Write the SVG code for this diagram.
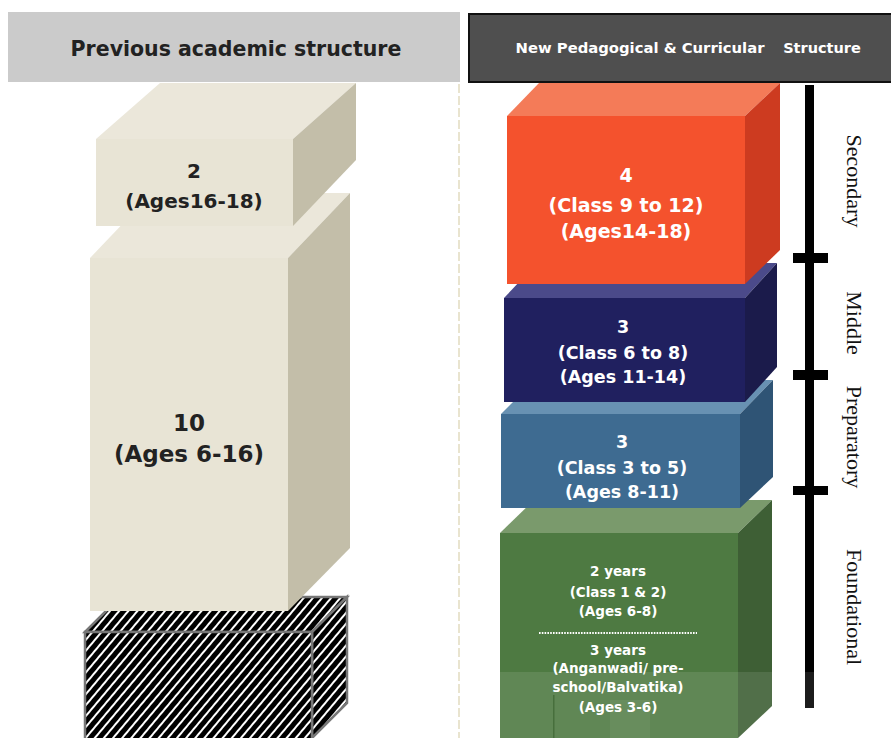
<svg xmlns="http://www.w3.org/2000/svg" width="891" height="738" viewBox="0 0 891 738">
<style>
.gs{font-family:"DejaVu Sans","Liberation Sans",sans-serif;font-weight:bold;text-anchor:middle}
.dk{fill:#222}
.wt{fill:#fff}
.lbl{font-family:"Liberation Serif","Times New Roman",serif;font-size:22px;fill:#111;text-anchor:middle}
</style>
<defs>
<pattern id="hatch" width="7" height="7" patternUnits="userSpaceOnUse" patternTransform="rotate(40)">
<rect width="7" height="7" fill="#000"/>
<rect x="0" y="0" width="2" height="7" fill="#fff"/>
</pattern>
</defs>
<rect width="891" height="738" fill="#fff"/>

<!-- headers -->
<g id="header-left">
<rect x="8" y="12" width="452" height="70" fill="#cbcbcb"/>
<text class="gs dk" x="236" y="56" font-size="20.5">Previous academic structure</text>
</g>
<g id="header-right">
<rect x="469" y="14" width="424" height="68" fill="#4f4f4f" stroke="#111" stroke-width="2"/>
<text class="gs wt" x="640" y="53" font-size="14.8">New Pedagogical &amp; Curricular</text>
<text class="gs wt" x="822" y="53" font-size="14.5">Structure</text>
</g>

<!-- divider and stage scale -->
<g id="connectors">
<line x1="459" y1="84" x2="459" y2="738" stroke="#e9e4cf" stroke-width="2" stroke-dasharray="9 3"/>
<rect x="805" y="85" width="9" height="588" fill="#000"/>
<rect x="805" y="672" width="9" height="36" fill="#1c1c1c"/>
<rect x="793" y="253" width="35" height="10" fill="#000"/>
<rect x="793" y="370" width="35" height="10" fill="#000"/>
<rect x="793" y="486" width="35" height="9" fill="#000"/>
</g>

<!-- left column -->
<g id="box-pre">
<polygon points="85,632 120,597 347,597 312,632" fill="url(#hatch)" stroke="#777" stroke-width="2.5"/>
<polygon points="312,632 347,597 347,703 312,738" fill="url(#hatch)" stroke="#777" stroke-width="2.5"/>
<rect x="85" y="632" width="227" height="108" fill="url(#hatch)" stroke="#777" stroke-width="2.5"/>
</g>
<g id="box-10">
<polygon points="90,258 152,193 350,193 288,258" fill="#ebe7da"/>
<polygon points="288,258 350,193 350,548 288,611" fill="#c3bea9"/>
<rect x="90" y="258" width="198" height="353" fill="#e8e4d5"/>
<text class="gs dk" x="189" y="431" font-size="23">10</text>
<text class="gs dk" x="189" y="462" font-size="23">(Ages 6-16)</text>
</g>
<g id="box-2">
<polygon points="96,139 160,83 356,83 293,139" fill="#ebe7da"/>
<polygon points="293,139 356,83 356,160 293,226" fill="#c3bea9"/>
<rect x="96" y="139" width="197" height="87" fill="#e8e4d5"/>
<text class="gs dk" x="194" y="178" font-size="20">2</text>
<text class="gs dk" x="194" y="208" font-size="20">(Ages16-18)</text>
</g>

<!-- right column -->
<g id="box-foundational">
<polygon points="500,533 534,500 772,500 738,533" fill="#7a9a6c"/>
<polygon points="738,533 772,500 772,706 738,738" fill="#3e5f35"/>
<rect x="500" y="533" width="238" height="205" fill="#4e7a42"/>
<rect x="500" y="672" width="238" height="66" fill="#fff" opacity="0.1"/>
<polygon points="738,672 772,672 772,706 738,738" fill="#fff" opacity="0.1"/>
<rect x="553" y="695" width="1.5" height="43" fill="#476f3c"/>
<rect x="610" y="700" width="40" height="38" fill="#fff" opacity="0.05"/>
<text class="gs wt" x="618" y="576" font-size="13.5">2 years</text>
<text class="gs wt" x="618" y="597" font-size="13.5">(Class 1 &amp; 2)</text>
<text class="gs wt" x="618" y="616" font-size="13.5">(Ages 6-8)</text>
<line x1="539" y1="633" x2="697" y2="633" stroke="#fff" stroke-width="2" stroke-dasharray="1.6 1.2"/>
<text class="gs wt" x="618" y="655" font-size="13.5">3 years</text>
<text class="gs wt" x="618" y="673" font-size="13.5">(Anganwadi/ pre-</text>
<text class="gs wt" x="618" y="692" font-size="13.5">school/Balvatika)</text>
<text class="gs wt" x="618" y="712" font-size="13.5">(Ages 3-6)</text>
</g>
<g id="box-preparatory">
<polygon points="501,414 535,380 773,380 740,414" fill="#6891b2"/>
<polygon points="740,414 773,380 773,477 740,508" fill="#2f5475"/>
<rect x="501" y="414" width="239" height="94" fill="#3e6b91"/>
<text class="gs wt" x="622" y="448" font-size="17.5">3</text>
<text class="gs wt" x="622" y="474" font-size="17.5">(Class 3 to 5)</text>
<text class="gs wt" x="622" y="498" font-size="17.5">(Ages 8-11)</text>
</g>
<g id="box-middle">
<polygon points="504,298 537,263 777,263 745,298" fill="#4b4a8a"/>
<polygon points="745,298 777,263 777,367 745,402" fill="#1b1b4b"/>
<rect x="504" y="298" width="241" height="104" fill="#20205f"/>
<text class="gs wt" x="623" y="333" font-size="17.5">3</text>
<text class="gs wt" x="623" y="359" font-size="17.5">(Class 6 to 8)</text>
<text class="gs wt" x="623" y="383" font-size="17.5">(Ages 11-14)</text>
</g>
<g id="box-secondary">
<polygon points="507,116 539,83 780,83 745,116" fill="#f47b58"/>
<polygon points="745,116 780,83 780,250 745,284" fill="#cd3b20"/>
<rect x="507" y="116" width="238" height="168" fill="#f4522d"/>
<text class="gs wt" x="626" y="182" font-size="19">4</text>
<text class="gs wt" x="626" y="212" font-size="19">(Class 9 to 12)</text>
<text class="gs wt" x="626" y="238" font-size="19">(Ages14-18)</text>
</g>

<!-- stage labels -->
<g id="label-secondary"><text class="lbl" transform="translate(847,181) rotate(90)">Secondary</text></g>
<g id="label-middle"><text class="lbl" transform="translate(847,323) rotate(90)">Middle</text></g>
<g id="label-preparatory"><text class="lbl" transform="translate(847,437) rotate(90)">Preparatory</text></g>
<g id="label-foundational"><text class="lbl" transform="translate(847,607) rotate(90)">Foundational</text></g>
</svg>
